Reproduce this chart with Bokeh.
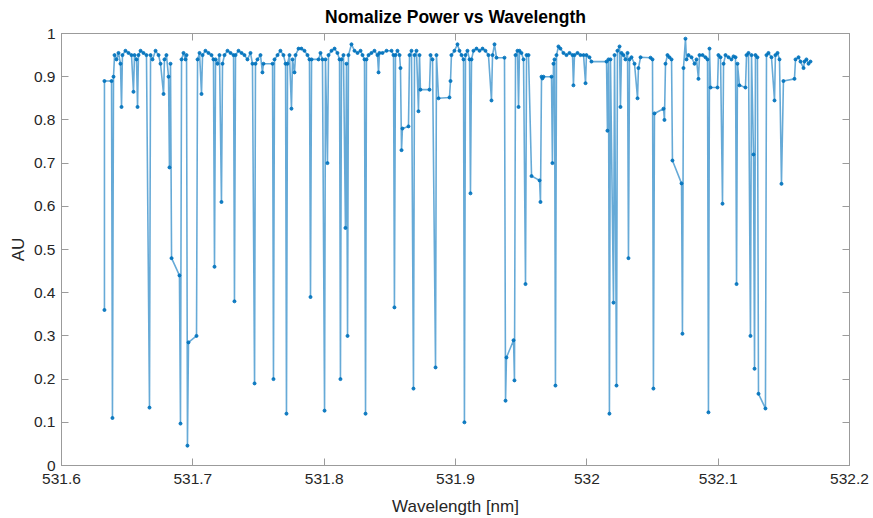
from bokeh.plotting import figure
from bokeh.models import Range1d, LinearAxis, FixedTicker, CustomJSTickFormatter
from bokeh.embed import file_html
from bokeh.resources import INLINE

title_text = "Nomalize Power vs Wavelength"
x_label = "Wavelength [nm]"
y_label = "AU"
x_ticks = [531.6, 531.7, 531.8, 531.9, 532.0, 532.1, 532.2]
y_ticks = [0, 0.1, 0.2, 0.3, 0.4, 0.5, 0.6, 0.7, 0.8, 0.9, 1.0]

wavelength_nm = [
    531.6327, 531.6327, 531.6381, 531.6388, 531.6396, 531.6404, 531.6419, 531.6434, 531.6449, 531.6457,
    531.6464, 531.6487, 531.6510, 531.6533, 531.6548, 531.6556, 531.6571, 531.6579, 531.6586, 531.6602,
    531.6624, 531.6647, 531.6670, 531.6678, 531.6693, 531.6716, 531.6739, 531.6754, 531.6777, 531.6784,
    531.6799, 531.6815, 531.6822, 531.6830, 531.6838, 531.6898, 531.6906, 531.6914, 531.6929, 531.6944,
    531.6952, 531.6959, 531.6967, 531.7028, 531.7036, 531.7051, 531.7066, 531.7074, 531.7096, 531.7119,
    531.7142, 531.7157, 531.7165, 531.7173, 531.7188, 531.7203, 531.7218, 531.7226, 531.7241, 531.7264,
    531.7287, 531.7310, 531.7317, 531.7325, 531.7348, 531.7371, 531.7393, 531.7416, 531.7439, 531.7454,
    531.7470, 531.7477, 531.7492, 531.7515, 531.7530, 531.7538, 531.7607, 531.7614, 531.7622, 531.7645,
    531.7667, 531.7690, 531.7706, 531.7713, 531.7721, 531.7736, 531.7751, 531.7759, 531.7774, 531.7782,
    531.7805, 531.7827, 531.7850, 531.7873, 531.7888, 531.7896, 531.7904, 531.7957, 531.7972, 531.7987,
    531.8003, 531.8010, 531.8025, 531.8033, 531.8056, 531.8079, 531.8101, 531.8117, 531.8124, 531.8132,
    531.8147, 531.8162, 531.8170, 531.8178, 531.8185, 531.8208, 531.8231, 531.8254, 531.8277, 531.8292,
    531.8307, 531.8315, 531.8322, 531.8338, 531.8360, 531.8383, 531.8406, 531.8414, 531.8421, 531.8444,
    531.8475, 531.8513, 531.8528, 531.8535, 531.8543, 531.8558, 531.8574, 531.8581, 531.8589, 531.8596,
    531.8642, 531.8650, 531.8665, 531.8680, 531.8688, 531.8703, 531.8718, 531.8726, 531.8733, 531.8802,
    531.8810, 531.8825, 531.8848, 531.8855, 531.8871, 531.8954, 531.8962, 531.8969, 531.8992, 531.9015,
    531.9030, 531.9046, 531.9061, 531.9068, 531.9076, 531.9091, 531.9107, 531.9114, 531.9122, 531.9137,
    531.9160, 531.9183, 531.9206, 531.9228, 531.9251, 531.9274, 531.9282, 531.9297, 531.9312, 531.9373,
    531.9381, 531.9388, 531.9442, 531.9449, 531.9457, 531.9472, 531.9480, 531.9487, 531.9502, 531.9518,
    531.9533, 531.9541, 531.9556, 531.9579, 531.9640, 531.9647, 531.9655, 531.9662, 531.9670, 531.9731,
    531.9738, 531.9746, 531.9754, 531.9761, 531.9769, 531.9784, 531.9799, 531.9822, 531.9845, 531.9868,
    531.9891, 531.9898, 531.9906, 531.9929, 531.9952, 531.9975, 531.9990, 531.9997, 532.0020, 532.0035,
    532.0150, 532.0157, 532.0165, 532.0172, 532.0180, 532.0203, 532.0211, 532.0226, 532.0233, 532.0249,
    532.0256, 532.0264, 532.0279, 532.0294, 532.0310, 532.0317, 532.0325, 532.0340, 532.0363, 532.0386,
    532.0393, 532.0409, 532.0485, 532.0500, 532.0507, 532.0515, 532.0584, 532.0591, 532.0599, 532.0614,
    532.0629, 532.0645, 532.0652, 532.0721, 532.0728, 532.0736, 532.0751, 532.0759, 532.0774, 532.0797,
    532.0820, 532.0835, 532.0850, 532.0858, 532.0881, 532.0903, 532.0919, 532.0926, 532.0934, 532.0942,
    532.0995, 532.1002, 532.1018, 532.1033, 532.1041, 532.1056, 532.1079, 532.1101, 532.1117, 532.1132,
    532.1140, 532.1147, 532.1162, 532.1208, 532.1216, 532.1231, 532.1246, 532.1254, 532.1269, 532.1277,
    532.1284, 532.1299, 532.1307, 532.1360, 532.1368, 532.1383, 532.1406, 532.1429, 532.1436, 532.1452,
    532.1467, 532.1482, 532.1497, 532.1581, 532.1589, 532.1612, 532.1627, 532.1650, 532.1657, 532.1672,
    532.1688, 532.1703,
]

power_au = [
    0.36, 0.89, 0.89, 0.11, 0.90, 0.95, 0.94, 0.955, 0.93, 0.83,
    0.95, 0.96, 0.955, 0.95, 0.865, 0.95, 0.94, 0.83, 0.95, 0.96,
    0.955, 0.95, 0.134, 0.95, 0.94, 0.96, 0.95, 0.93, 0.86, 0.94,
    0.95, 0.90, 0.69, 0.93, 0.48, 0.44, 0.097, 0.94, 0.955, 0.94,
    0.95, 0.046, 0.285, 0.30, 0.94, 0.955, 0.86, 0.95, 0.96, 0.955,
    0.95, 0.94, 0.46, 0.94, 0.93, 0.95, 0.61, 0.93, 0.95, 0.96,
    0.955, 0.95, 0.38, 0.95, 0.96, 0.955, 0.95, 0.94, 0.955, 0.93,
    0.19, 0.93, 0.94, 0.95, 0.91, 0.93, 0.93, 0.20, 0.94, 0.95,
    0.96, 0.95, 0.93, 0.12, 0.93, 0.95, 0.826, 0.94, 0.91, 0.95,
    0.965, 0.965, 0.96, 0.95, 0.94, 0.39, 0.94, 0.94, 0.955, 0.94,
    0.127, 0.94, 0.70, 0.95, 0.96, 0.965, 0.955, 0.94, 0.20, 0.94,
    0.95, 0.55, 0.93, 0.30, 0.95, 0.975, 0.96, 0.955, 0.96, 0.95,
    0.94, 0.12, 0.94, 0.95, 0.955, 0.96, 0.95, 0.91, 0.955, 0.955,
    0.96, 0.96, 0.95, 0.366, 0.95, 0.96, 0.95, 0.92, 0.73, 0.78,
    0.785, 0.95, 0.96, 0.178, 0.95, 0.96, 0.82, 0.95, 0.87, 0.87,
    0.95, 0.94, 0.227, 0.95, 0.85, 0.852, 0.89, 0.95, 0.96, 0.975,
    0.96, 0.95, 0.94, 0.10, 0.95, 0.96, 0.94, 0.63, 0.94, 0.96,
    0.965, 0.96, 0.965, 0.96, 0.95, 0.845, 0.95, 0.975, 0.944, 0.944,
    0.15, 0.25, 0.29, 0.197, 0.95, 0.96, 0.83, 0.96, 0.955, 0.94,
    0.42, 0.95, 0.95, 0.67, 0.66, 0.61, 0.90, 0.896, 0.90, 0.90,
    0.70, 0.93, 0.94, 0.185, 0.95, 0.97, 0.965, 0.955, 0.95, 0.955,
    0.95, 0.88, 0.95, 0.955, 0.95, 0.95, 0.885, 0.95, 0.945, 0.935,
    0.935, 0.775, 0.94, 0.12, 0.94, 0.377, 0.95, 0.185, 0.96, 0.97,
    0.83, 0.955, 0.95, 0.94, 0.955, 0.48, 0.94, 0.945, 0.93, 0.85,
    0.92, 0.945, 0.944, 0.94, 0.178, 0.815, 0.826, 0.80, 0.93, 0.95,
    0.945, 0.94, 0.706, 0.653, 0.305, 0.92, 0.988, 0.94, 0.95, 0.945,
    0.93, 0.94, 0.895, 0.95, 0.95, 0.945, 0.94, 0.123, 0.965, 0.875,
    0.875, 0.95, 0.945, 0.606, 0.93, 0.95, 0.945, 0.94, 0.947, 0.945,
    0.42, 0.93, 0.88, 0.875, 0.95, 0.955, 0.30, 0.95, 0.72, 0.224,
    0.95, 0.945, 0.166, 0.132, 0.95, 0.955, 0.945, 0.845, 0.95, 0.955,
    0.94, 0.652, 0.89, 0.895, 0.94, 0.945, 0.935, 0.92, 0.935, 0.94,
    0.93, 0.935,
]

FONT = "Liberation Sans"
AXIS_GREY = "#9b9b9b"
TEXT_COL = "#262626"
LINE_COL = "#0072BD"

p = figure(width=873, height=518, output_backend="svg", toolbar_location=None,
           x_range=Range1d(531.6, 532.2), y_range=Range1d(0, 1),
           min_border_left=61, min_border_right=24, min_border_top=33, min_border_bottom=53,
           background_fill_color="white", border_fill_color="white")

p.title.text = title_text
p.title.align = "center"
p.title.vertical_align = "top"
p.title.text_font = FONT
p.title.text_font_style = "bold"
p.title.text_font_size = "17.5px"
p.title.text_color = "#000000"
p.title.standoff = 9

p.xgrid.visible = False
p.ygrid.visible = False
p.outline_line_color = AXIS_GREY

fmt = CustomJSTickFormatter(code="return String(Number(tick.toFixed(1)));")
blank_fmt = CustomJSTickFormatter(code="return '';")

def style_axis(ax, ticks, show_labels):
    ax.ticker = FixedTicker(ticks=ticks)
    ax.axis_line_color = AXIS_GREY
    ax.major_tick_line_color = AXIS_GREY
    ax.major_tick_in = 7
    ax.major_tick_out = 0
    ax.minor_tick_line_color = None
    if show_labels:
        ax.formatter = fmt
        ax.major_label_text_font = FONT
        ax.major_label_text_font_size = "15.5px"
        ax.major_label_text_color = TEXT_COL
        ax.axis_label_text_font = FONT
        ax.axis_label_text_font_size = "17px"
        ax.axis_label_text_font_style = "normal"
        ax.axis_label_text_color = TEXT_COL
    else:
        ax.formatter = blank_fmt
        ax.major_label_text_font_size = "1px"
        ax.major_label_standoff = 0

xa = p.xaxis[0]
style_axis(xa, x_ticks, True)
xa.axis_label = x_label
xa.major_label_standoff = 8
xa.axis_label_standoff = 10

ya = p.yaxis[0]
style_axis(ya, y_ticks, True)
ya.axis_label = y_label
ya.major_label_standoff = 6
ya.axis_label_standoff = 3

top_ax = LinearAxis()
style_axis(top_ax, x_ticks, False)
p.add_layout(top_ax, "above")
right_ax = LinearAxis()
style_axis(right_ax, y_ticks, False)
p.add_layout(right_ax, "right")

p.line(wavelength_nm, power_au, line_color=LINE_COL, line_width=1.6, line_alpha=0.6)
p.scatter(wavelength_nm, power_au, size=3, fill_color=LINE_COL, line_color=LINE_COL, alpha=0.9)

open("out.html", "w").write(file_html(p, INLINE))
